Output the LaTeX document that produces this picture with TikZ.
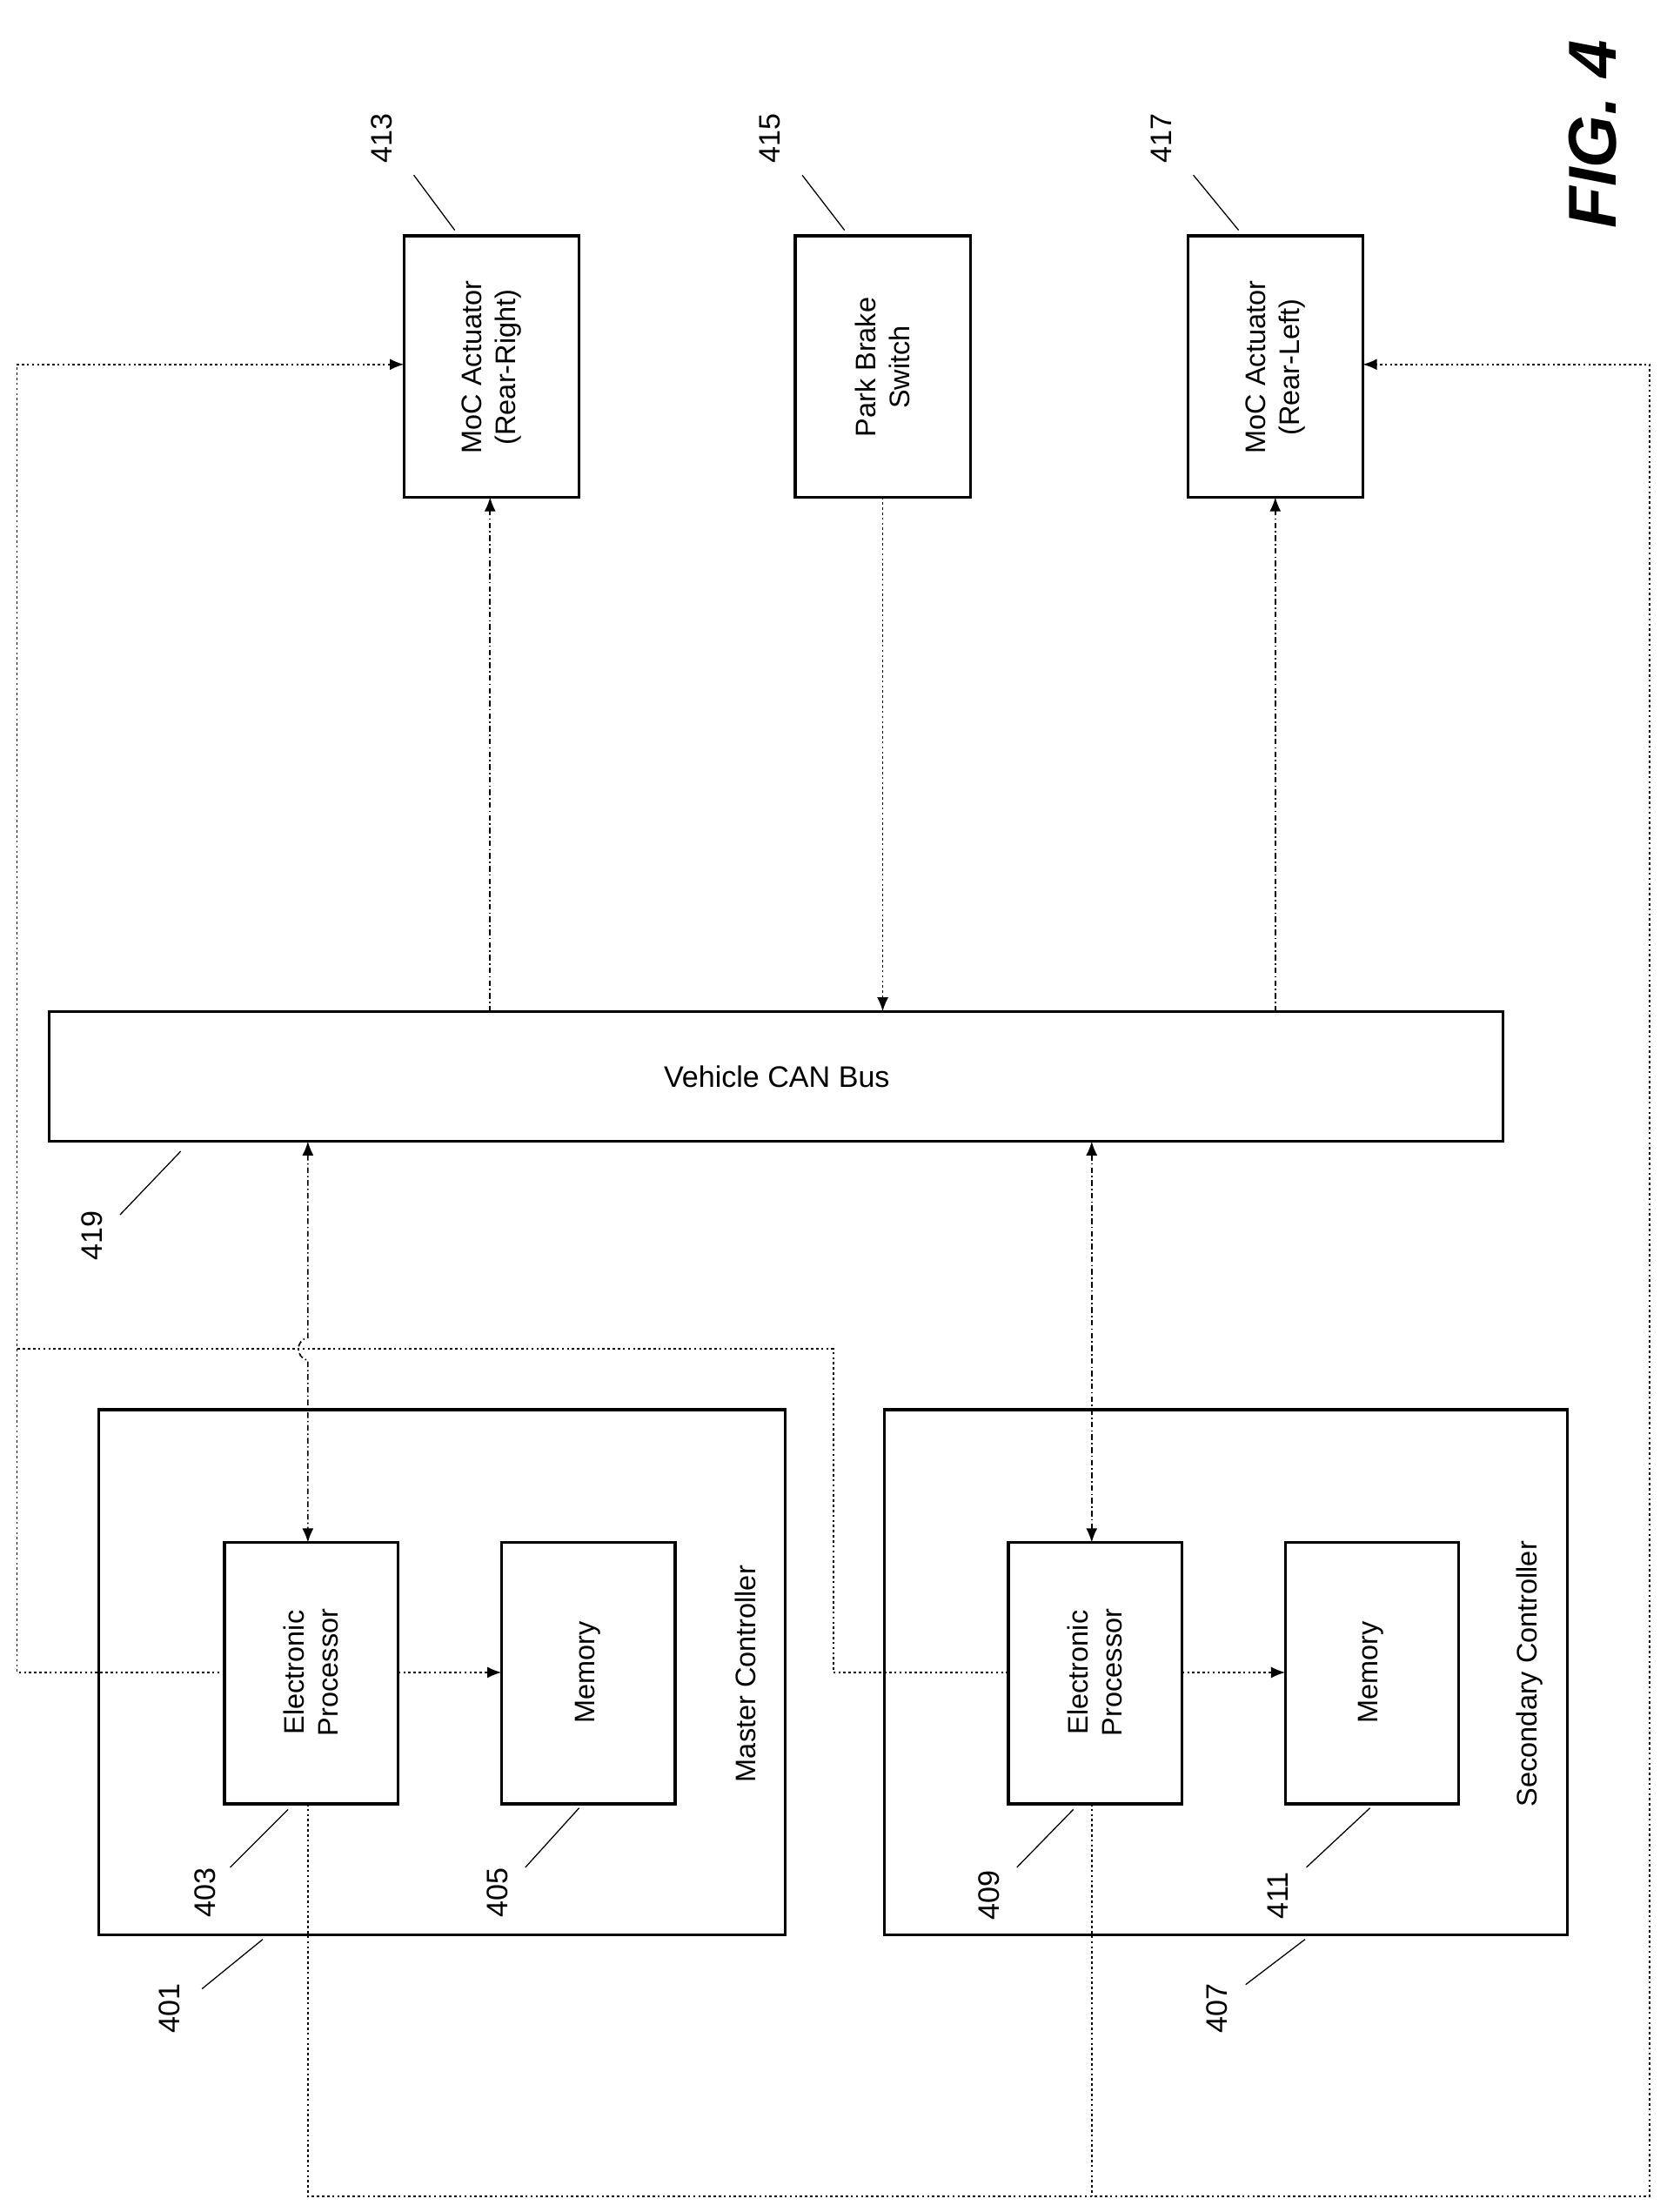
\documentclass[tikz,border=0pt]{standalone}
\usepackage{fontspec}
\setmainfont{Liberation Sans}
\usetikzlibrary{arrows.meta}
\begin{document}
\begin{tikzpicture}[x=0.5pt,y=-0.5pt,
  box/.style={draw,line width=1pt,inner sep=0pt},
  rt/.style={rotate=90,align=center,font=\fontsize{10}{12}\selectfont},
  lbl/.style={rotate=90,font=\fontsize{10.5}{12}\selectfont},
  dd/.style={line width=0.5pt,dash pattern=on 2pt off 1pt on 0.5pt off 1pt},
  dt/.style={line width=0.5pt,dash pattern=on 0.8pt off 1pt},
  tip/.style={-{Latex[length=5pt,width=4pt]}},
  lead/.style={line width=0.4pt}]
\useasboundingbox (0,0) rectangle (1180,1566);
% boxes
\draw[box] (286,167) rectangle (410,352); \node[rt] (a413) at (348,260) {MoC Actuator\\(Rear-Right)};
\draw[box] (563,167) rectangle (687,352); \node[rt] (a415) at (625,260) {Park Brake\\Switch};
\draw[box] (841,167) rectangle (965,352); \node[rt] (a417) at (903,260) {MoC Actuator\\(Rear-Left)};
\draw[box] (35,716) rectangle (1064,808); \node[font=\fontsize{10.5}{12}\selectfont] (can) at (550,762) {Vehicle CAN Bus};
\draw[box] (70,998) rectangle (556,1370); \node[rt] (mc) at (528,1185) {Master Controller};
\draw[box] (159,1092) rectangle (282,1277); \node[rt] (p403) at (220,1184) {Electronic\\Processor};
\draw[box] (355,1092) rectangle (478,1277); \node[rt] (m405) at (416,1184) {Memory};
\draw[box] (626,998) rectangle (1110,1370); \node[rt] (sc) at (1083,1185) {Secondary Controller};
\draw[box] (714,1092) rectangle (837,1277); \node[rt] (p409) at (775,1184) {Electronic\\Processor};
\draw[box] (910,1092) rectangle (1033,1277); \node[rt] (m411) at (971,1184) {Memory};
\node[rotate=90,font=\bfseries\itshape\fontsize{24}{26}\selectfont] (fig) at (1128,95) {FIG. 4};
% labels
\node[lbl] (l413) at (270,98) {413}; \draw[lead] (293,124) -- (322,163);
\node[lbl] (l415) at (545,98) {415}; \draw[lead] (568,124) -- (598,163);
\node[lbl] (l417) at (822,98) {417}; \draw[lead] (845,124) -- (877,163);
\node[lbl] (l419) at (65,875) {419}; \draw[lead] (85,860) -- (128,815);
\node[lbl] (l401) at (120,1422) {401}; \draw[lead] (143,1408) -- (186,1373);
\node[lbl] (l403) at (145,1340) {403}; \draw[lead] (163,1322) -- (204,1281);
\node[lbl] (l405) at (352,1340) {405}; \draw[lead] (372,1322) -- (410,1280);
\node[lbl] (l409) at (700,1342) {409}; \draw[lead] (720,1322) -- (760,1281);
\node[lbl] (l411) at (905,1342) {411}; \draw[lead] (925,1322) -- (970,1280);
\node[lbl] (l407) at (862,1422) {407}; \draw[lead] (882,1405) -- (924,1373);
% connectors
\draw[dd,tip] (347,716) -- (347,352);
\draw[dd,tip] (903,716) -- (903,352);
\draw[dt,tip] (625,352) -- (625,716);
\draw[dd,{Latex[length=5pt,width=4pt]}-{Latex[length=5pt,width=4pt]}] (218,808) -- (218,947) .. controls (209,949) and (209,961) .. (218,963) -- (218,1092);
\draw[dd,{Latex[length=5pt,width=4pt]}-{Latex[length=5pt,width=4pt]}] (773,808) -- (773,1092);
\draw[dt,tip] (282,1184) -- (355,1184);
\draw[dt,tip] (837,1184) -- (910,1184);
\draw[dt,tip] (159,1184) -- (12,1184) -- (12,258) -- (286,258);
\draw[dt] (714,1184) -- (590,1184) -- (590,955) -- (12,955);
\draw[dt,tip] (218,1277) -- (218,1555) -- (1168,1555) -- (1168,258) -- (965,258);
\draw[dt] (773,1277) -- (773,1555);
\end{tikzpicture}
\end{document}
